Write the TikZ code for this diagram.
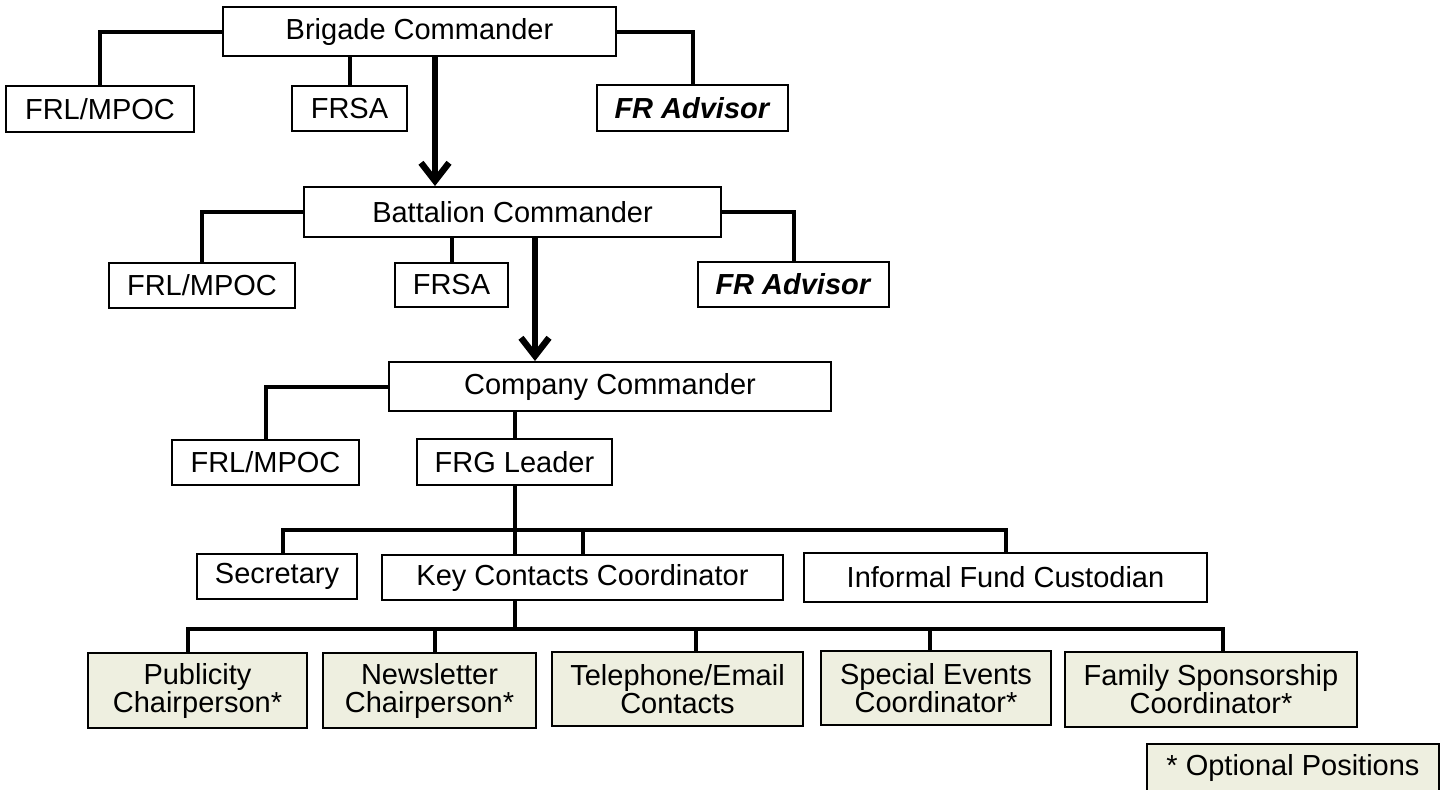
\documentclass[tikz,border=0pt]{standalone}
\usepackage{fontspec}
\setmainfont{Liberation Sans}
\usetikzlibrary{arrows.meta}
\definecolor{optfill}{HTML}{EEEFE0}
\tikzset{
  unit/.style={draw, line width=1pt, inner sep=0pt, align=center,
    font=\fontsize{14.5}{14}\selectfont},
  optional/.style={unit, fill=optfill},
  link/.style={line width=2pt},
  cmdarrow/.style={line width=3.2pt, -{Straight Barb[length=9pt,width=14pt]}}
}
\begin{document}
\begin{tikzpicture}[x=0.5pt,y=-0.5pt]
      \useasboundingbox (0,0) rectangle (1447,789);
      \draw
        (419.5,31.5) node[unit,minimum width=196.5pt,minimum height=24.5pt] (bde){Brigade Commander}
        (100,109) node[unit,minimum width=94pt,minimum height=23pt] (bdefrl){FRL/MPOC}
        (349.5,108.5) node[unit,minimum width=57.5pt,minimum height=22.5pt] (bdefrsa){FRSA}
        (692.5,108) node[unit,minimum width=95.5pt,minimum height=23pt] (bdeadv){\textbf{\textit{FR Advisor}}}
        (512.5,212) node[unit,minimum width=208.5pt,minimum height=25pt] (bn){Battalion Commander}
        (202,285.5) node[unit,minimum width=93pt,minimum height=22.5pt] (bnfrl){FRL/MPOC}
        (451.5,285) node[unit,minimum width=56.5pt,minimum height=22pt] (bnfrsa){FRSA}
        (793.5,284.5) node[unit,minimum width=95.5pt,minimum height=22.5pt] (bnadv){\textbf{\textit{FR Advisor}}}
        (610,386.5) node[unit,minimum width=221pt,minimum height=24.5pt] (co){Company Commander}
        (265.5,462.5) node[unit,minimum width=93.5pt,minimum height=22.5pt] (cofrl){FRL/MPOC}
        (514.5,462) node[unit,minimum width=97.5pt,minimum height=23pt] (frg){FRG Leader}
        (277,576.5) node[unit,minimum width=80pt,minimum height=22.5pt] (sec){Secretary}
        (582.5,577.5) node[unit,minimum width=200.5pt,minimum height=22.5pt] (kcc){Key Contacts Coordinator}
        (1005.5,577.5) node[unit,minimum width=201.5pt,minimum height=24.5pt] (ifc){Informal Fund Custodian}
        (197.5,690.5) node[optional,minimum width=109.5pt,minimum height=37.5pt] (pub){Publicity\\Chairperson*}
        (429.5,690.5) node[optional,minimum width=106.5pt,minimum height=37.5pt] (news){Newsletter\\Chairperson*}
        (677.5,689) node[optional,minimum width=125.5pt,minimum height=37pt] (tel){Telephone/Email\\Contacts}
        (936,688) node[optional,minimum width=115pt,minimum height=37pt] (spe){Special Events\\Coordinator*}
        (1211,689.5) node[optional,minimum width=146pt,minimum height=37.5pt] (fam){Family Sponsorship\\Coordinator*}
        (1293,768) node[optional,minimum width=146pt,minimum height=24pt] (legend){* Optional Positions};
      \coordinate (bus1) at (514.5,530);
      \coordinate (bus2) at (514.5,629);
      \begin{scope}[link]
        \draw (bde.west) -| (bdefrl);
        \draw (bdefrsa.north) -- (bdefrsa.north |- bde.south);
        \draw (bde.east) -| (bdeadv);
        \draw (bn.west) -| (bnfrl);
        \draw (bnfrsa.north) -- (bnfrsa.north |- bn.south);
        \draw (bn.east) -| (bnadv);
        \draw (co.west) -| (cofrl);
        \draw (frg.north) -- (frg.north |- co.south);
        \draw (frg.south) -- (frg.south |- kcc.north);
        \draw ([xshift=3pt]sec.north) |- (bus1) -| (ifc.north);
        \draw (kcc.north) -- (kcc.north |- bus1);
        \draw (kcc.south -| bus2) -- (bus2);
        \draw ([xshift=-4.75pt]pub.north) |- (bus2) -| ([xshift=6pt]fam.north);
        \draw ([xshift=2.75pt]news.north) -- ([xshift=2.75pt]news.north |- bus2);
        \draw ([xshift=9.25pt]tel.north) -- ([xshift=9.25pt]tel.north |- bus2);
        \draw ([xshift=-3pt]spe.north) -- ([xshift=-3pt]spe.north |- bus2);
      \end{scope}
      \draw[cmdarrow] ([xshift=7.75pt]bde.south) -- ([xshift=7.75pt]bde.south |- bn.north);
      \draw[cmdarrow] ([xshift=11.25pt]bn.south) -- ([xshift=11.25pt]bn.south |- co.north);
    \end{tikzpicture}
\end{document}
